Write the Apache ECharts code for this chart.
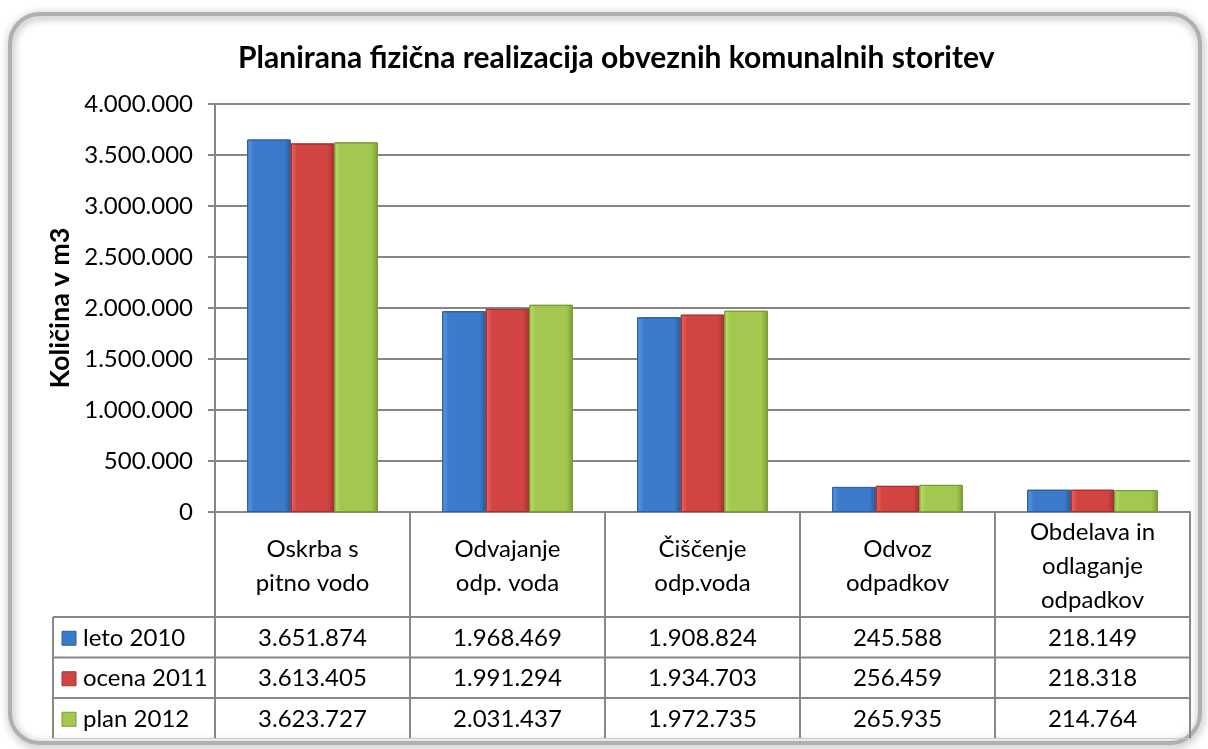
<!DOCTYPE html>
<html><head><meta charset="utf-8">
<script src="https://cdn.jsdelivr.net/npm/echarts@6/dist/echarts.min.js"></script>
<style>html,body{margin:0;padding:0;background:#fff;}#c{width:1208px;height:749px;}</style>
</head><body><div id="c"></div>
<script>
const title = 'Planirana fizična realizacija obveznih komunalnih storitev';
const yAxisName = 'Količina v m3';
const categories = ['Oskrba s\npitno vodo', 'Odvajanje\nodp. voda', 'Čiščenje\nodp.voda', 'Odvoz\nodpadkov', 'Obdelava in\nodlaganje\nodpadkov'];
const seriesNames = ['leto 2010', 'ocena 2011', 'plan 2012'];
const leto2010 = [3651874, 1968469, 1908824, 245588, 218149];
const ocena2011 = [3613405, 1991294, 1934703, 256459, 218318];
const plan2012 = [3623727, 2031437, 1972735, 265935, 214764];
const yTicks = [0, 500000, 1000000, 1500000, 2000000, 2500000, 3000000, 3500000, 4000000];

const FONT = 'Lato';
const FS = 24;
function fmt(v){ return String(Math.round(v)).replace(/\B(?=(\d{3})+(?!\d))/g, '.'); }
function grad(a,b,c){ return new echarts.graphic.LinearGradient(0,0,1,0,[{offset:0,color:a},{offset:0.15,color:b},{offset:0.85,color:b},{offset:1,color:c}]); }
const styles = [
  {color: grad('#5B9BE6','#3C7BCB','#2A5A9C'), borderColor:'#2D609F'},
  {color: grad('#EC6361','#D24442','#A53230'), borderColor:'#A33331'},
  {color: grad('#BDE06A','#A2C84F','#7E9E38'), borderColor:'#7C9A37'}
];
const legendColors = ['#3C7BCB','#D24442','#A2C84F'];
const allData = [leto2010, ocena2011, plan2012];

const chart = echarts.init(document.getElementById('c'), null, {renderer:'canvas'});
const gridL = 215, gridR = 18, gridT = 104, gridB = 237;
chart.setOption({
  animation:false,
  textStyle:{fontFamily:FONT},
  title:{text:title, left:233, top:38, textStyle:{fontFamily:FONT, fontWeight:'bold', fontSize:30, color:'#000'}},
  grid:{left:gridL, right:gridR, top:gridT, bottom:gridB},
  xAxis:{type:'category', data:categories, axisLine:{show:true, lineStyle:{color:'#868686', width:2}}, axisTick:{show:false}, axisLabel:{show:false}},
  yAxis:{type:'value', min:0, max:4000000, interval:500000,
    name:yAxisName, nameLocation:'middle', nameGap:138, nameTextStyle:{fontFamily:FONT, fontWeight:'bold', fontSize:27, color:'#000'},
    axisLine:{show:true, lineStyle:{color:'#868686', width:2}},
    axisTick:{show:true, length:7, lineStyle:{color:'#868686', width:2}},
    axisLabel:{fontFamily:FONT, fontSize:FS, color:'#000', margin:22, formatter:v=>fmt(v)},
    splitLine:{show:true, lineStyle:{color:'#868686', width:2}}},
  series: allData.map((d,i)=>({name:seriesNames[i], type:'bar', data:d, barGap:'0%', barCategoryGap:'33%',
    itemStyle:{color:styles[i].color, borderColor:styles[i].borderColor, borderWidth:1}}))
});

// Data table below the plot, built from the data arrays
const rowTop = 512, headerBottom = 617, rowH = 40.5, legendLeft = 53;
const tableBottom = headerBottom + rowH*3;
const lineStyle = {stroke:'#888', lineWidth:2};
const g = [];
const xs = categories.map((c,i)=>chart.convertToPixel({xAxisIndex:0}, i));
const colW = xs[1]-xs[0];
const plotRight = 1208-gridR;
// frame
g.push({type:'rect', shape:{x:10, y:14, width:1190, height:729, r:30}, style:{fill:'none', stroke:'#b0b0b0', lineWidth:4, shadowBlur:8, shadowColor:'rgba(0,0,0,0.4)', shadowOffsetX:1, shadowOffsetY:2}, z:-10, silent:true});
// vertical lines
for (let i=0;i<=categories.length;i++){
  const x = i===categories.length ? plotRight : xs[i]-colW/2;
  g.push({type:'line', shape:{x1:x, y1:rowTop, x2:x, y2:tableBottom}, style:lineStyle});
}
g.push({type:'line', shape:{x1:legendLeft, y1:headerBottom, x2:legendLeft, y2:tableBottom}, style:lineStyle});
// horizontal lines
for (let r=0;r<=3;r++){
  const y = headerBottom + r*rowH;
  g.push({type:'line', shape:{x1:legendLeft, y1:y, x2:plotRight, y2:y}, style:r===3?{stroke:'#c8c8c8', lineWidth:1}:lineStyle});
}
// header texts
categories.forEach((c,i)=>{
  g.push({type:'text', x:xs[i], y:(rowTop+headerBottom)/2+2, style:{text:c, fontFamily:FONT, fontSize:FS, lineHeight:34, fill:'#000', align:'center', verticalAlign:'middle'}});
});
// rows
seriesNames.forEach((n,r)=>{
  const yc = headerBottom + r*rowH + rowH/2 + 1;
  g.push({type:'rect', shape:{x:62, y:yc-7, width:14, height:14}, style:{fill:legendColors[r], stroke:styles[r].borderColor, lineWidth:1}});
  g.push({type:'text', x:83, y:yc, style:{text:n, fontFamily:FONT, fontSize:FS, fill:'#000', align:'left', verticalAlign:'middle'}});
  allData[r].forEach((v,i)=>{
    g.push({type:'text', x:xs[i], y:yc, style:{text:fmt(v), fontFamily:FONT, fontSize:FS, fill:'#000', align:'center', verticalAlign:'middle'}});
  });
});
chart.setOption({graphic:g});
</script></body></html>
